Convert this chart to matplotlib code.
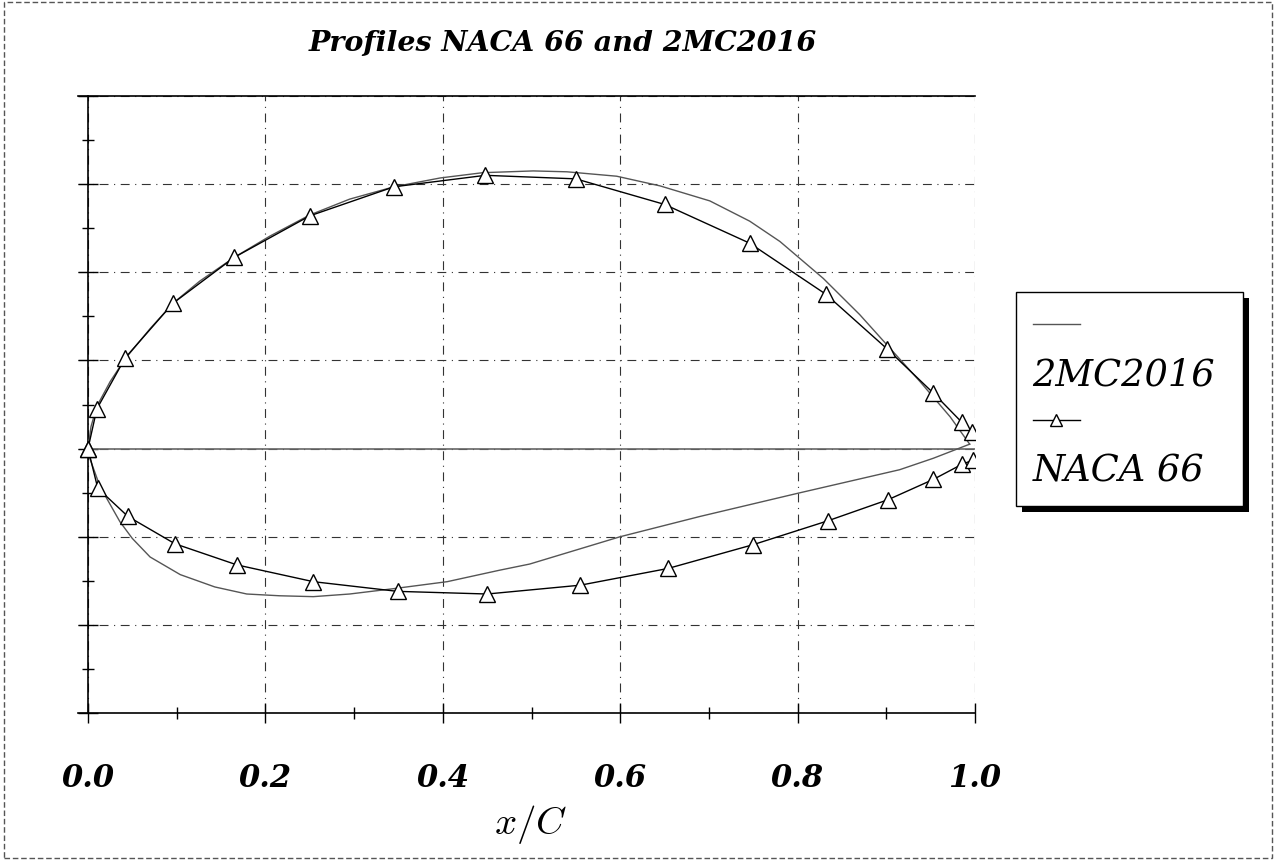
import matplotlib.pyplot as plt
from matplotlib.lines import Line2D
from matplotlib.patches import Rectangle
from matplotlib.ticker import MultipleLocator, NullFormatter

plt.rcParams['mathtext.fontset'] = 'cm'

# 2MC2016 profile
mc_x_up = [0, 0.0034, 0.010, 0.025, 0.042, 0.070, 0.096, 0.126, 0.165, 0.205, 0.250, 0.295, 0.345, 0.397,
           0.445, 0.502, 0.540, 0.596, 0.645, 0.701, 0.746, 0.780, 0.829, 0.870, 0.904, 0.938, 0.972, 0.994]
mc_y_up = [0, 0.005, 0.0096, 0.0152, 0.0204, 0.0272, 0.033, 0.038, 0.0434, 0.0482, 0.053, 0.0566, 0.0594, 0.0614,
           0.0626, 0.063, 0.0628, 0.0618, 0.0596, 0.0562, 0.0516, 0.047, 0.0386, 0.0304, 0.0228, 0.0152, 0.0072, 0.001]
mc_x_lo = [0, 0.002, 0.0135, 0.036, 0.050, 0.070, 0.104, 0.143, 0.179, 0.216, 0.254, 0.295, 0.344, 0.405,
           0.464, 0.498, 0.600, 0.690, 0.799, 0.915, 0.953, 0.994]
mc_y_lo = [0, -0.0022, -0.0086, -0.0166, -0.0204, -0.0246, -0.0286, -0.0314, -0.033, -0.0334, -0.0336, -0.033,
           -0.0318, -0.0302, -0.0276, -0.0262, -0.020, -0.0154, -0.0102, -0.0048, -0.0022, 0.001]

# NACA 66 profile
naca_x_up = [0, 0.010, 0.042, 0.096, 0.165, 0.250, 0.345, 0.448, 0.550, 0.650, 0.746, 0.832, 0.901, 0.953, 0.985, 0.997]
naca_y_up = [0, 0.009, 0.0206, 0.033, 0.0434, 0.0528, 0.0594, 0.062, 0.0612, 0.0554, 0.0466, 0.035, 0.0226,
             0.0126, 0.006, 0.0038]
naca_x_lo = [0, 0.011, 0.045, 0.098, 0.168, 0.254, 0.349, 0.450, 0.555, 0.654, 0.750, 0.834, 0.902, 0.953, 0.985, 0.998]
naca_y_lo = [0, -0.009, -0.0154, -0.0216, -0.0264, -0.0302, -0.0324, -0.033, -0.031, -0.0272, -0.0218, -0.0164,
             -0.0116, -0.007, -0.0036, -0.0026]

xticks = [0.0, 0.2, 0.4, 0.6, 0.8, 1.0]

fig = plt.figure(figsize=(12.76, 8.62), dpi=100)
ax = fig.add_axes([78 / 1276, 1 - 714 / 862, (975 - 78) / 1276, (714 - 97) / 862])

mc_style = dict(color='#555555', lw=1.0)
naca_style = dict(color='black', lw=1.0, marker='^', ms=11, mfc='white', mec='black', mew=1.0)

ax.hlines(0, 0, 1, color='#666666', lw=1.2, zorder=2)
ax.plot(mc_x_up, mc_y_up, **mc_style, zorder=3)
ax.plot(mc_x_lo, mc_y_lo, **mc_style, zorder=3)
ax.plot(naca_x_up, naca_y_up, **naca_style, zorder=4)
ax.plot(naca_x_lo, naca_y_lo, **naca_style, zorder=4)

ax.set_xlim(-10 / 887, 1.0)
ax.set_ylim(-0.06, 0.08)
ax.set_xticks(xticks)
ax.set_xticklabels([f'{v:.1f}' for v in xticks], family='DejaVu Serif', weight='bold', style='italic', size=22)
ax.xaxis.set_minor_locator(MultipleLocator(0.1))
ax.yaxis.set_major_locator(MultipleLocator(0.02))
ax.yaxis.set_minor_locator(MultipleLocator(0.01))
ax.yaxis.set_major_formatter(NullFormatter())
ax.tick_params(which='major', direction='inout', length=14, width=1, pad=28)
ax.tick_params(which='minor', direction='inout', length=9, width=1)
ax.grid(True, which='major', color='#333333', lw=0.8, ls=(0, (8, 5, 1, 5)))

ax.spines['right'].set_visible(False)
ax.spines['left'].set_position(('data', 0))
for s in ['left', 'top', 'bottom']:
    ax.spines[s].set_linewidth(1.2)
ax.patch.set_visible(False)

fig.text(563 / 1276, 1 - 43 / 862, 'Profiles NACA 66 and 2MC2016', ha='center', va='center',
         family='DejaVu Serif', weight='bold', style='italic', size=20.5)
fig.text(531 / 1276, 1 - 825 / 862, r'$x/C$', ha='center', va='center', size=28)

blank = Line2D([], [], ls='none')
handles = [Line2D([], [], **mc_style), blank,
           Line2D([], [], color='black', lw=1.0, marker='^', ms=9, mfc='white', mec='black'), blank]
labels = ['', '2MC2016 ', '', 'NACA 66 ']
leg = fig.legend(handles, labels, loc='upper left', bbox_to_anchor=(1016 / 1276, 1 - 293 / 862),
                 borderaxespad=0, prop=dict(family='DejaVu Serif', style='italic', size=26.5),
                 handlelength=1.3, handletextpad=-1.3, labelspacing=0.33, borderpad=0.45,
                 fancybox=False, edgecolor='black', framealpha=1)
leg.get_frame().set_linewidth(1.0)

fig.canvas.draw()
bb = leg.get_window_extent()
fig.patches.append(Rectangle((bb.x0 + 6, bb.y0 - 6), bb.width, bb.height, transform=None,
                             facecolor='black', edgecolor='none', zorder=-1))
fig.patches.append(Rectangle((0.003, 0.004), 0.994, 0.992, transform=fig.transFigure, fill=False,
                             edgecolor='#555555', lw=1.0, ls=(0, (4, 2))))

fig.savefig('out.png', dpi=100)
